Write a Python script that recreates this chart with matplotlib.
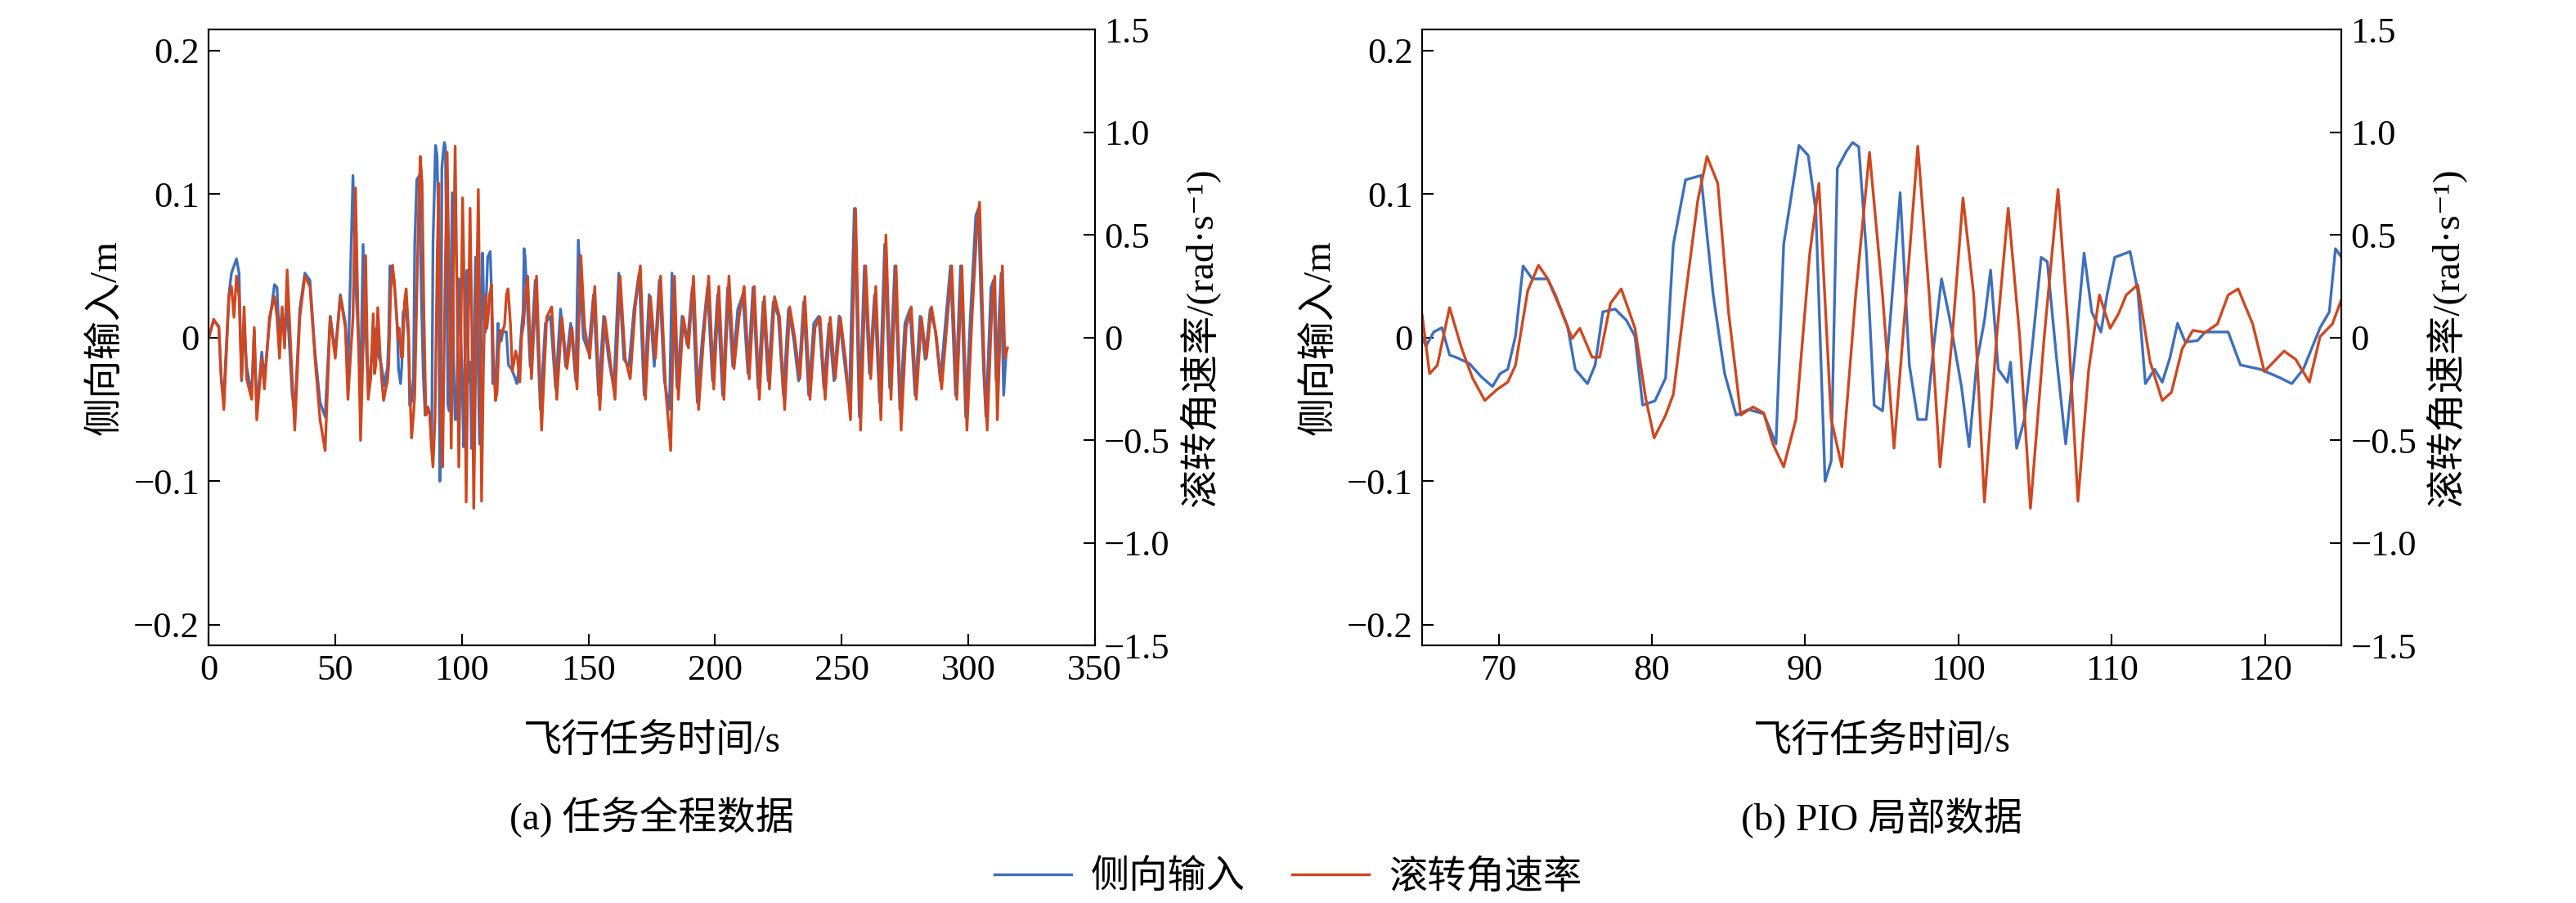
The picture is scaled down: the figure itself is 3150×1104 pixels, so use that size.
import matplotlib.pyplot as plt
from matplotlib.lines import Line2D

plt.rcParams['font.family'] = ['Liberation Serif', 'Noto Sans CJK SC', 'DejaVu Sans']
plt.rcParams['axes.unicode_minus'] = True

# lateral input (m)
t_in = [0, 2, 4, 5, 6, 8, 9, 10, 11, 12, 13, 14, 15, 17, 18, 19, 21, 22, 24, 26, 27, 28, 29, 30, 31,
        33, 34, 36, 38, 40, 42, 44, 46, 48, 50, 52, 54, 55, 57, 58, 60, 61, 62, 63, 64,
        65.0, 65.26, 65.77, 66.3, 66.8, 67.3, 68.1, 68.85, 69.6, 70.1, 70.6, 71.1, 71.6, 72.2, 73.2, 73.7,
        74.5, 75.0, 75.8, 76.3, 76.8, 77.6, 78.35, 78.9, 79.4, 80.2, 80.9, 81.4, 82.2, 83.2, 84.0, 84.75,
        85.5, 86.3, 87.3, 88.1, 88.6, 89.1, 89.6, 90.2, 90.7, 91.3, 91.7, 92.1, 92.7, 93.1, 93.5, 94.0,
        94.5, 95.05, 95.55, 96.2, 96.8, 97.35, 97.9, 98.4, 98.9, 99.4, 100.2, 100.7, 101.2, 101.7, 102.1,
        102.6, 103.2, 103.4, 103.8, 104.3, 104.8, 105.4, 105.8, 106.4, 107.0, 107.6, 108.2, 108.7, 109.3,
        109.7, 110.2, 111.2, 111.7, 112.2, 112.8, 113.3, 113.8, 114.3, 114.8, 115.6, 116.1, 117.6, 118.4,
        119.7, 121.0, 121.75, 122.5, 123.6, 124.2, 124.6, 125.0,
        127, 129, 131, 133, 135, 137, 139, 141, 143, 145, 146, 148, 150, 152, 154, 156, 158, 160, 162,
        164, 166, 168, 170, 172, 174, 176, 178, 180, 182, 183, 185, 187, 189, 191, 193, 195, 197, 199,
        201, 203, 205, 207, 209, 211, 213, 215, 217, 219, 221, 223, 225, 227, 229, 231, 233, 235, 237,
        239, 241, 243, 245, 247, 249, 251, 253, 255, 256, 257, 259, 261, 263, 265, 267, 269, 271, 273,
        275, 277, 279, 281, 283, 285, 287, 289, 291, 293, 295, 297, 299, 301, 303, 304, 305, 306, 307,
        309, 310, 311, 313, 314, 315]
v_in = [0, 0.012, 0.008, -0.03, -0.04, 0.03, 0.045, 0.05, 0.055, 0.045, -0.03, 0.01, -0.02, -0.04, 0.005,
        -0.05, -0.01, -0.03, 0.01, 0.037, 0.035, -0.005, 0.02, 0.0, 0.023, -0.04, -0.052, 0.02, 0.045, 0.04,
        -0.01, -0.045, -0.055, 0.015, -0.01, 0.03, 0.01, -0.025, 0.113, 0.04, -0.03, 0.065, 0.005, -0.035, -0.02,
        0.001, -0.006, 0.004, 0.007, -0.012, -0.014, -0.018, -0.027, -0.034, -0.025, -0.022, 0.001, 0.050,
        0.041, 0.041, 0.030, 0.008, -0.022, -0.032, -0.019, 0.018, 0.020, 0.012, 0.001, -0.047, -0.044,
        -0.028, 0.065, 0.110, 0.113, 0.030, -0.025, -0.054, -0.050, -0.053, -0.074, 0.065, 0.099, 0.134,
        0.127, 0.088, -0.100, -0.086, 0.118, 0.130, 0.136, 0.133, 0.059, -0.047, -0.051, 0.012, 0.101,
        -0.019, -0.057, -0.057, -0.005, 0.041, 0.015, -0.034, -0.076, -0.017, 0.012, 0.047, -0.022, -0.031,
        -0.017, -0.077, -0.057, -0.008, 0.056, 0.053, -0.014, -0.074, -0.011, 0.059, 0.018, 0.004, 0.030,
        0.056, 0.060, 0.033, -0.032, -0.022, -0.031, -0.014, 0.010, -0.003, -0.002, 0.004, 0.004, -0.019,
        -0.022, -0.028, -0.032, -0.022, 0.007, 0.018, 0.062, 0.056,
        -0.02, 0.04, -0.05, 0.01, 0.015, -0.035, 0.02, -0.02, 0.01, -0.03, 0.068, 0.0, -0.01, 0.03, -0.04,
        0.015, -0.015, -0.035, 0.045, -0.015, -0.02, 0.02, 0.045, -0.04, 0.03, -0.02, 0.04, -0.03, -0.05,
        0.045, -0.035, 0.015, -0.005, 0.035, -0.045, 0.0, 0.035, -0.03, 0.03, -0.04, 0.035, -0.02, 0.02,
        0.03, -0.025, 0.035, -0.035, 0.025, -0.03, 0.025, 0.015, -0.04, 0.02, 0.0, -0.03, 0.025, -0.04,
        0.01, 0.015, -0.035, 0.01, -0.03, 0.015, -0.015, -0.045, 0.09, 0.02, -0.055, 0.05, -0.025, 0.03,
        -0.045, 0.065, -0.035, 0.05, -0.05, 0.01, 0.02, -0.04, 0.015, -0.015, 0.02, 0.005, -0.03, 0.01,
        0.05, -0.04, 0.05, -0.055, 0.02, 0.085, 0.09, 0.03, -0.02, -0.055, 0.035, 0.04, -0.03, 0.045,
        -0.04, -0.01]

# roll rate (rad/s)
t_roll = [0, 2, 4, 5, 6, 8, 9, 10, 11, 12, 13, 14, 15, 17, 18, 19, 21, 22, 24, 26, 27, 28, 29, 30, 31,
          33, 34, 36, 38, 40, 42, 44, 46, 48, 50, 52, 54, 55, 57, 58, 59, 60, 62, 63, 64,
          65.0, 65.5, 66.0, 66.8, 67.6, 68.3, 69.1, 69.9, 70.6, 71.1, 71.9, 72.6, 73.2, 74.0, 74.8, 75.3,
          76.1, 76.6, 77.3, 78.0, 78.9, 79.6, 80.15, 80.9, 81.4, 82.2, 83.0, 83.6, 84.3, 85.0, 85.8, 86.6,
          87.3, 87.9, 88.6, 89.4, 90.3, 90.9, 91.7, 92.4, 93.3, 94.2, 95.05, 95.8, 96.6, 97.35, 98.1, 98.8,
          99.6, 100.3, 101.0, 101.7, 102.5, 103.25, 104.0, 104.7, 105.6, 106.5, 107.2, 107.8, 108.5, 109.2,
          109.9, 110.45, 110.95, 111.7, 112.5, 113.3, 113.9, 114.6, 115.3, 116.1, 116.9, 117.6, 118.25,
          119.2, 119.96, 121.25, 122.0, 122.9, 123.6, 124.4, 125.0,
          126, 127.5, 129.5, 131.5, 133.5, 135.5, 137.5, 139.5, 141.5, 143.5, 145.5, 147, 148.5, 150.5,
          152.5, 154.5, 156.5, 158.5, 160.5, 162.5, 164.5, 166.5, 168.5, 170.5, 172.5, 174.5, 176.5, 178.5,
          180.5, 182.5, 184, 185.5, 187.5, 189.5, 191.5, 193.5, 195.5, 197.5, 199.5, 201.5, 203.5, 205.5,
          207.5, 209.5, 211.5, 213.5, 215.5, 217.5, 219.5, 221.5, 223.5, 225.5, 227.5, 229.5, 231.5, 233.5,
          235.5, 237.5, 239.5, 241.5, 243.5, 245.5, 247.5, 249.5, 251.5, 253.5, 255.5, 256.5, 257.5, 259.5,
          261.5, 263.5, 265.5, 267.5, 269.5, 271.5, 273.5, 275.5, 277.5, 279.5, 281.5, 283.5, 285.5, 287.5,
          289.5, 291.5, 293.5, 295.5, 297.5, 299.5, 301.5, 303.5, 304.5, 305.5, 306.5, 307.5, 309.5, 310.5,
          311.5, 313.5, 314.5, 315.5]
v_roll = [0, 0.09, 0.05, -0.2, -0.35, 0.2, 0.25, 0.1, 0.3, 0.2, -0.2, 0.15, -0.2, -0.3, 0.05, -0.4, -0.1,
          -0.25, 0.1, 0.2, 0.1, -0.1, 0.15, -0.05, 0.33, -0.2, -0.45, 0.1, 0.3, 0.25, -0.1, -0.4, -0.55, 0.1,
          -0.1, 0.2, 0.05, -0.3, 0.1, 0.73, 0.1, -0.5, 0.4, -0.3, -0.2,
          0.117, -0.175, -0.135, 0.147, -0.054, -0.196, -0.306, -0.252, -0.216, -0.135, 0.228, 0.353, 0.288,
          0.147, -0.004, 0.046, -0.095, -0.095, 0.167, 0.238, 0.046, -0.296, -0.488, -0.377, -0.276, 0.208,
          0.671, 0.883, 0.752, 0.127, -0.377, -0.337, -0.367, -0.518, -0.629, -0.397, 0.409, 0.752, -0.397,
          -0.629, 0.208, 0.903, 0.208, -0.538, 0.208, 0.933, 0.208, -0.629, 0.006, 0.681, 0.208, -0.800,
          0.006, 0.631, 0.006, -0.831, 0.006, 0.722, 0.006, -0.796, -0.155, 0.208, 0.046, 0.117, 0.208,
          0.258, -0.115, -0.306, -0.266, -0.054, 0.036, 0.026, 0.067, 0.208, 0.238, 0.067, -0.165, -0.065,
          -0.105, -0.216, 0.006, 0.067, 0.188,
          0.3, -0.2, 0.3, -0.45, 0.1, 0.15, -0.3, 0.1, -0.15, 0.05, -0.25, 0.4, 0.05, -0.1, 0.25, -0.35, 0.1,
          -0.1, -0.3, 0.3, -0.1, -0.2, 0.15, 0.35, -0.3, 0.2, -0.1, 0.3, -0.25, -0.55, 0.3, -0.3, 0.1, -0.05,
          0.3, -0.35, 0.0, 0.3, -0.25, 0.25, -0.3, 0.3, -0.15, 0.1, 0.25, -0.2, 0.25, -0.3, 0.2, -0.25, 0.2,
          0.1, -0.35, 0.15, 0.0, -0.2, 0.2, -0.3, 0.05, 0.1, -0.3, 0.1, -0.2, 0.1, -0.1, -0.4, 0.63, 0.1,
          -0.45, 0.35, -0.2, 0.25, -0.4, 0.5, -0.3, 0.35, -0.45, 0.05, 0.15, -0.3, 0.1, -0.1, 0.15, 0.0,
          -0.25, 0.05, 0.35, -0.3, 0.35, -0.45, 0.1, 0.55, 0.66, 0.2, -0.2, -0.45, 0.2, 0.3, -0.4, 0.35,
          -0.1, -0.05]

blue = '#3d6fbd'
red = '#d0471f'
fs = 32

fig = plt.figure(figsize=(31.5, 11.04), dpi=100)
panels = [([0.081, 0.285, 0.344, 0.682], (0, 350), [0, 50, 100, 150, 200, 250, 300, 350], '(a) 任务全程数据'),
          ([0.552, 0.285, 0.357, 0.682], (65, 125), [70, 80, 90, 100, 110, 120], '(b) PIO 局部数据')]

for rect, xlim, xt, cap in panels:
    ax = fig.add_axes(rect)
    ax2 = ax.twinx()
    ax.plot(t_in, v_in, color=blue, lw=2.4)
    ax2.plot(t_roll, v_roll, color=red, lw=2.4)
    ax.set_xlim(*xlim)
    ax.set_xticks(xt)
    ax.set_ylim(-0.2145, 0.2145)
    ax.set_yticks([-0.2, -0.1, 0, 0.1, 0.2])
    ax.set_yticklabels(['\u22120.2', '\u22120.1', '0', '0.1', '0.2'])
    ax2.set_ylim(-1.5, 1.5)
    ax2.set_yticks([-1.5, -1.0, -0.5, 0, 0.5, 1.0, 1.5])
    ax2.set_yticklabels(['\u22121.5', '\u22121.0', '\u22120.5', '0', '0.5', '1.0', '1.5'])
    for a in (ax, ax2):
        a.tick_params(direction='in', length=10, width=1.5, labelsize=fs, pad=8)
        for s in a.spines.values():
            s.set_linewidth(1.5)
    ax.set_ylabel('侧向输入/m', fontsize=fs + 2, labelpad=8)
    ax2.set_ylabel('滚转角速率/(rad\u00b7s\u207b\u00b9)', fontsize=fs + 2, labelpad=8)
    ax.set_xlabel('飞行任务时间/s', fontsize=fs + 2, labelpad=32)
    cx = rect[0] + rect[2] / 2
    fig.text(cx, 0.095, cap, fontsize=fs + 2, ha='center', va='center')

handles = [Line2D([], [], color=blue, lw=2.4), Line2D([], [], color=red, lw=2.4)]
fig.legend(handles, ['侧向输入', '滚转角速率'], loc='center', bbox_to_anchor=(0.5, 0.028),
           ncol=2, frameon=False, fontsize=fs + 2, handlelength=2.0, columnspacing=1.2, handletextpad=0.5)

fig.savefig('out.png', dpi=100)
